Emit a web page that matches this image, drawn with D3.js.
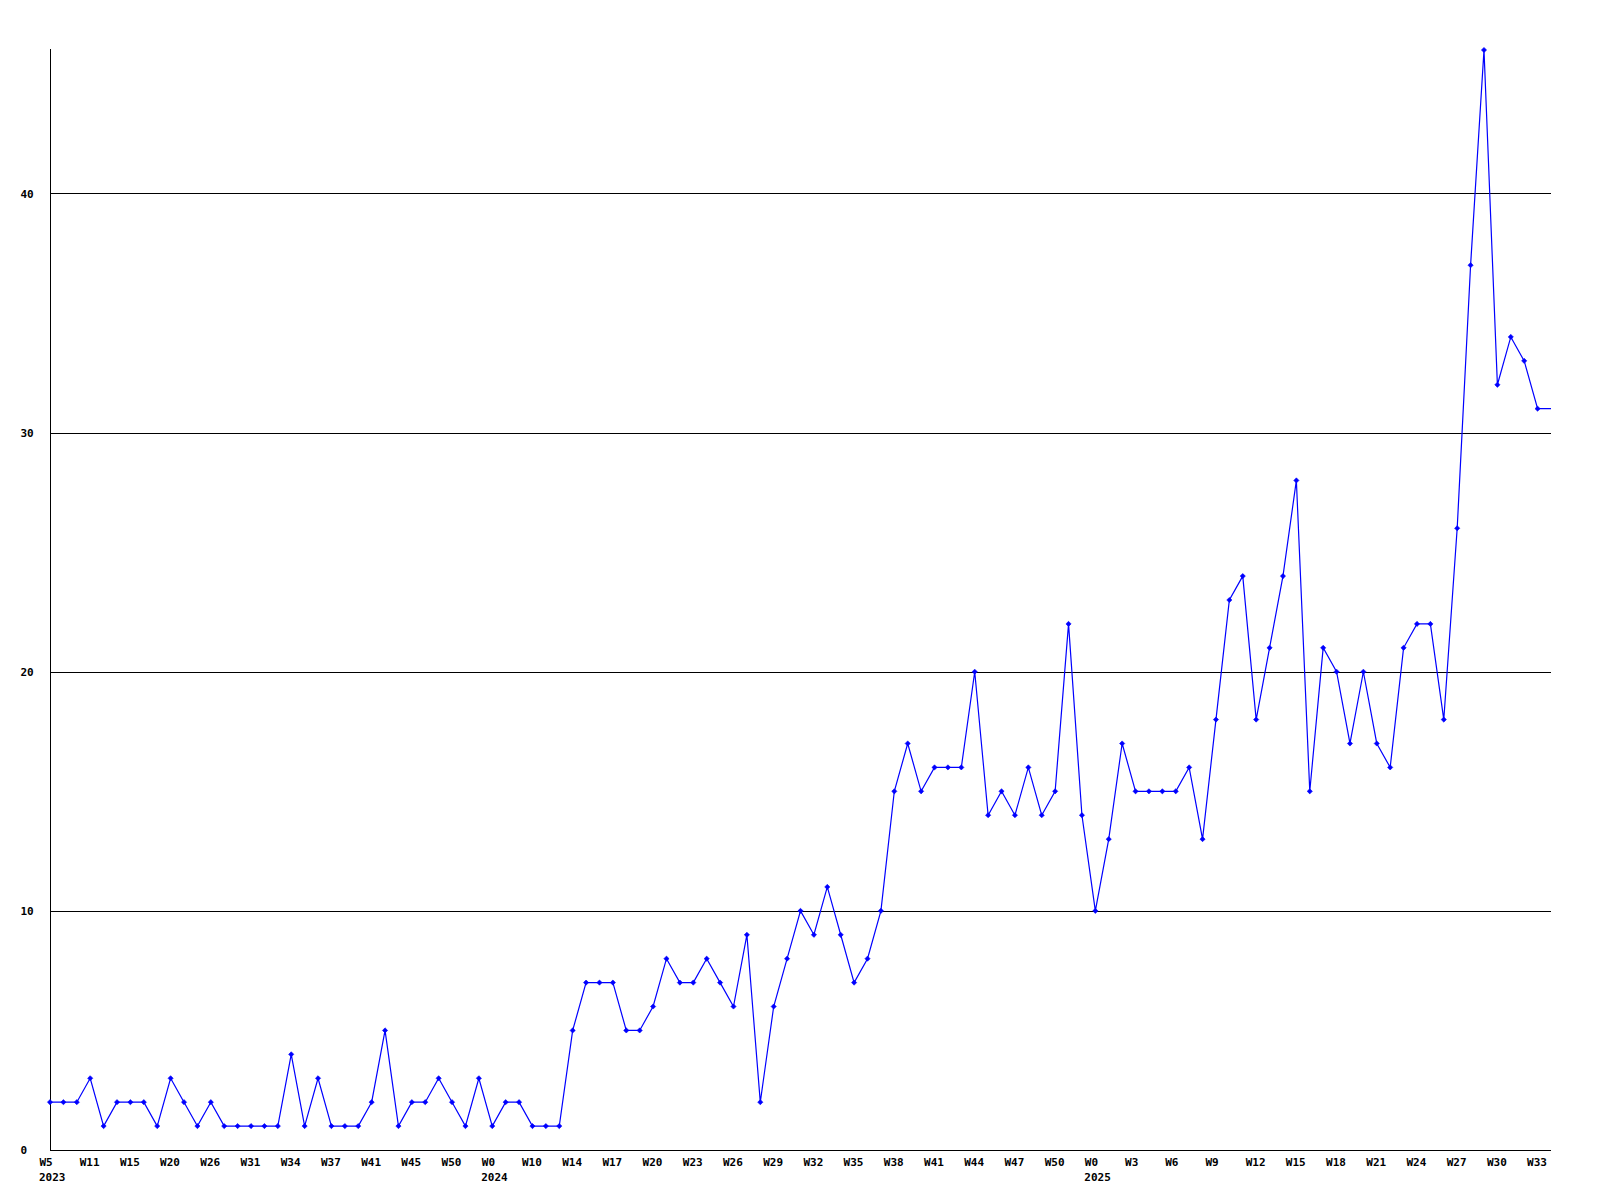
<!DOCTYPE html>
<html>
<head>
<meta charset="utf-8">
<script src="https://cdn.jsdelivr.net/npm/d3@7"></script>
<style>
  html, body { margin: 0; padding: 0; background: #ffffff; }
  svg { display: block; }
  text { font-family: "DejaVu Sans Mono", monospace; font-weight: bold; font-size: 11px; fill: #000; }
</style>
</head>
<body>
<svg id="chart" width="1600" height="1200"></svg>
<script>
// ---- data ----
const values = [2,2,2,3,1,2,2,2,1,3,2,1,2,1,1,1,1,1,4,1,3,1,1,1,2,5,1,2,2,3,2,1,3,1,2,2,1,1,1,5,
  7,7,7,5,5,6,8,7,7,8,7,6,9,2,6,8,10,9,11,9,7,8,10,15,17,15,16,16,16,20,14,15,14,16,14,15,22,14,
  10,13,17,15,15,15,15,16,13,18,23,24,18,21,24,28,15,21,20,17,20,17,16,21,22,22,18,26,37,46,32,34,33,31,31];
const tickLabels = ["W5","W11","W15","W20","W26","W31","W34","W37","W41","W45","W50",
  "W0","W10","W14","W17","W20","W23","W26","W29","W32","W35","W38","W41","W44","W47","W50",
  "W0","W3","W6","W9","W12","W15","W18","W21","W24","W27","W30","W33"];
const yearLabels = ["2023","2024","2025"];
const yearTickIndex = [0, 11, 26];   // positions in tickLabels where a new year starts
const tickEvery = 3;
const yTicks = [0,10,20,30,40];

// ---- layout ----
const mLeft = 50, mRight = 1551, mTop = 50, mBottom = 1150;
const svg = d3.select("#chart");

const x = d3.scalePoint().domain(d3.range(values.length)).range([mLeft, mRight]);
const y = d3.scaleLinear().domain([0, 46]).range([mBottom, mTop]);

// grid lines
svg.append("g").selectAll("line").data(yTicks.filter(d => d > 0)).join("line")
  .attr("x1", mLeft).attr("x2", mRight)
  .attr("y1", d => Math.round(y(d)) + 0.5).attr("y2", d => Math.round(y(d)) + 0.5)
  .attr("stroke", "#000").attr("stroke-width", 1).attr("shape-rendering", "crispEdges");

// y axis (labels)
const yAxis = d3.axisLeft(y).tickValues(yTicks).tickSize(0).tickFormat(d3.format("d"));
const gy = svg.append("g").attr("transform", `translate(${mLeft + 0.5},0)`).call(yAxis);
gy.select(".domain").remove();
gy.selectAll("text").attr("x", 20 - mLeft).attr("text-anchor", "start")
  .attr("font-family", "DejaVu Sans Mono").attr("font-size", 11).attr("font-weight", "bold");

// x axis labels
const tickIdx = tickLabels.map((_, i) => i * tickEvery);
const xAxis = d3.axisBottom(x).tickValues(tickIdx).tickSize(0)
  .tickFormat((d, i) => tickLabels[i]);
const gx = svg.append("g").attr("transform", `translate(0,${mBottom})`).call(xAxis);
gx.select(".domain").remove();
gx.selectAll("text").attr("text-anchor", "start").attr("x", -11).attr("y", 16).attr("dy", null)
  .attr("font-family", "DejaVu Sans Mono").attr("font-size", 11).attr("font-weight", "bold");

// year labels
svg.append("g").selectAll("text").data(yearLabels).join("text")
  .attr("x", (d, i) => x(yearTickIndex[i] * tickEvery) - 11)
  .attr("y", mBottom + 31)
  .text(d => d);

// axis lines
svg.append("line").attr("x1", mLeft + 0.5).attr("x2", mLeft + 0.5).attr("y1", mTop - 1).attr("y2", mBottom)
  .attr("stroke", "#000").attr("shape-rendering", "crispEdges");
svg.append("line").attr("x1", mLeft).attr("x2", mRight).attr("y1", mBottom + 0.5).attr("y2", mBottom + 0.5)
  .attr("stroke", "#000").attr("shape-rendering", "crispEdges");

// line
const line = d3.line().x((d, i) => x(i)).y(d => y(d));
svg.append("path").datum(values).attr("d", line)
  .attr("fill", "none").attr("stroke", "#0000ff").attr("stroke-width", 1.2);

// markers (last value sits on the plot edge, drawn without marker)
svg.append("g").selectAll("path").data(values.slice(0, -1)).join("path")
  .attr("transform", (d, i) => `translate(${x(i)},${y(d)})`)
  .attr("d", "M-2.6,0L0,-2.6L2.6,0L0,2.6Z")
  .attr("fill", "#0000ff").attr("stroke", "#0000ff").attr("stroke-width", 0.6);
</script>
</body>
</html>
